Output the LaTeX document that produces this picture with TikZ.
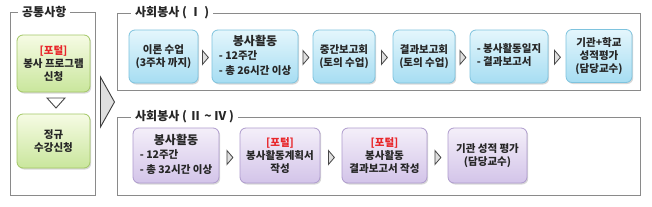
\documentclass[tikz,border=0pt]{standalone}
\usepackage{fontspec}
\setmainfont{Noto Sans CJK KR}
\usetikzlibrary{shapes.geometric,shadows,calc}
\definecolor{bluetop}{HTML}{E4F6FC}
\definecolor{bluebot}{HTML}{A6DDF2}
\definecolor{blueline}{HTML}{7EC3DE}
\definecolor{greentop}{HTML}{F6FBE4}
\definecolor{greenbot}{HTML}{C9E69C}
\definecolor{greenline}{HTML}{A3C766}
\definecolor{purtop}{HTML}{F4EFF9}
\definecolor{purbot}{HTML}{D3C4E9}
\definecolor{purline}{HTML}{AE9BCD}
\definecolor{framegray}{HTML}{8A8A8A}
\definecolor{portred}{HTML}{E8262A}
\definecolor{txt}{HTML}{262626}
\tikzset{
  boxbase/.style={rounded corners=6pt, line width=0.8pt, inner sep=1pt, align=center,
    font=\bfseries\fontsize{10.5}{13}\selectfont, text=txt,
    drop shadow={shadow xshift=1.2pt, shadow yshift=-1.5pt, opacity=0.3}},
  bluebox/.style={boxbase, draw=blueline, top color=bluetop, bottom color=bluebot, minimum height=53pt},
  greenbox/.style={boxbase, draw=greenline, top color=greentop, bottom color=greenbot, minimum width=73pt},
  purbox/.style={boxbase, draw=purline, top color=purtop, bottom color=purbot, minimum height=55pt},
  frame/.style={draw=framegray, line width=0.9pt, fill=white,
    drop shadow={shadow xshift=1.2pt, shadow yshift=-1.2pt, opacity=0.25}},
  ftitle/.style={fill=white, inner xsep=4pt, inner ysep=1pt, anchor=west, text=txt,
    font=\bfseries\fontsize{12}{14}\selectfont},
  smallarrow/.style={isosceles triangle, isosceles triangle stretches, draw=txt!85, fill=gray!25,
    line width=0.8pt, minimum height=6pt, minimum width=14pt, inner sep=0pt},
  downarrow/.style={isosceles triangle, isosceles triangle stretches, draw=txt!85, fill=white,
    line width=0.9pt, minimum height=10pt, minimum width=18pt, inner sep=0pt, shape border rotate=-90},
  bigarrow/.style={isosceles triangle, isosceles triangle stretches, draw=txt!90, fill=gray!25,
    line width=0.9pt, minimum height=14pt, minimum width=50pt, inner sep=0pt},
}
\newcommand{\portal}{{\color{portred}[포털]}}
\newcommand{\bigt}[1]{{\fontsize{12}{15}\selectfont #1}}
\begin{document}
\begin{tikzpicture}[x=1pt,y=-1pt]
\useasboundingbox[fill=white] (0,0) rectangle (652,206);
% frames
\node[frame, minimum width=85pt, minimum height=183pt, inner sep=0pt] (fcommon) at (52.5,103.5) {};
\node[frame, minimum width=523pt, minimum height=77pt, inner sep=0pt] (fone) at (378.5,51.5) {};
\node[frame, minimum width=523pt, minimum height=78pt, inner sep=0pt] (ftwo) at (378.5,156) {};
\node[ftitle] (tcommon) at (18,12) {공통사항};
\node[ftitle] (tone) at (131,13) {사회봉사 ( Ⅰ )};
\node[ftitle] (ttwo) at (131,117) {사회봉사 ( Ⅱ \textasciitilde{} Ⅳ )};
% common boxes
\node[greenbox, minimum height=57pt] (g1) at (53.5,63.5) {\portal\\봉사 프로그램\\신청};
\node[greenbox, minimum height=54pt] (g2) at (53.5,141) {정규\\수강신청};
\node[downarrow] (gd) at (56,102) {};
% big arrow
\node[bigarrow] (big) at (107,102) {};
% top row
\node[bluebox, minimum width=69pt] (a1) at (163.5,56.5) {이론 수업\\(3주차 까지)};
\node[bluebox, minimum width=86pt] (a2) at (255,56.5) {\begin{tabular}{@{}l@{}}\multicolumn{1}{@{}c@{}}{\bigt{봉사활동}}\\[1pt] - 12주간\\[2pt] - 총 26시간 이상\end{tabular}};
\node[bluebox, minimum width=62pt] (a3) at (344,56.5) {중간보고회\\(토의 수업)};
\node[bluebox, minimum width=62pt] (a4) at (424,56.5) {결과보고회\\(토의 수업)};
\node[bluebox, minimum width=78pt] (a5) at (509,56.5) {\begin{tabular}{@{}l@{}}- 봉사활동일지\\- 결과보고서\end{tabular}};
\node[bluebox, minimum width=66pt] (a6) at (599,56) {기관+학교\\성적평가\\(담당교수)};
\foreach \p/\q [count=\i] in {a1/a2,a2/a3,a3/a4,a4/a5,a5/a6}
  \node[smallarrow] (ta\i) at ($(\p.east)!0.5!(\q.west)+(0,1)$) {};
% bottom row
\node[purbox, minimum width=86pt] (b1) at (176,155.5) {\begin{tabular}{@{}l@{}}\multicolumn{1}{@{}c@{}}{\bigt{봉사활동}}\\[1pt] - 12주간\\[2pt] - 총 32시간 이상\end{tabular}};
\node[purbox, minimum width=80pt] (b2) at (280,155.5) {\portal\\봉사활동계획서\\작성};
\node[purbox, minimum width=85pt] (b3) at (384.5,155.5) {\portal\\봉사활동\\결과보고서 작성};
\node[purbox, minimum width=79pt] (b4) at (487.5,155.5) {기관 성적 평가\\(담당교수)};
\foreach \p/\q [count=\i] in {b1/b2,b2/b3,b3/b4}
  \node[smallarrow] (tb\i) at ($(\p.east)!0.5!(\q.west)+(0,2)$) {};
\end{tikzpicture}
\end{document}
